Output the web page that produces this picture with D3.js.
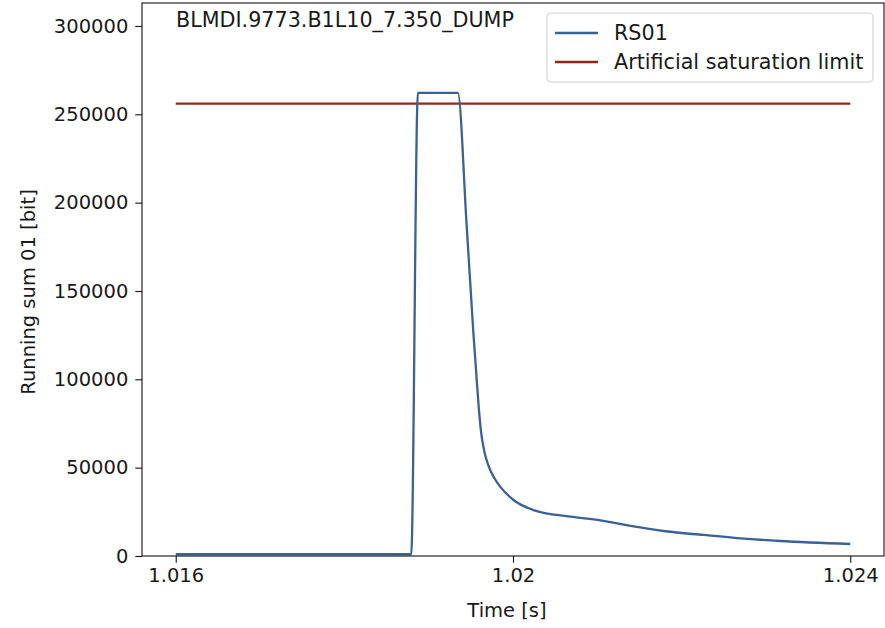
<!DOCTYPE html>
<html>
<head>
<meta charset="utf-8">
<script src="https://cdn.jsdelivr.net/npm/d3@7"></script>
<style>
  body { margin: 0; background: #fff; }
  text { font-family: "DejaVu Sans", sans-serif; fill: #1a1a1a; }
</style>
</head>
<body>
<svg id="chart"></svg>
<script>
const title = 'BLMDI.9773.B1L10_7.350_DUMP';
const seriesNames = ['RS01', 'Artificial saturation limit'];

// RS01 running sum
const times = [1.016, 1.018793, 1.018872, 1.019346, 1.019449, 1.019528, 1.019570,
  1.019594, 1.019622, 1.019661, 1.019710, 1.019780, 1.019852, 1.020006, 1.020243,
  1.020681, 1.021037, 1.021393, 1.021807, 1.022258, 1.022696, 1.023170, 1.024];
const rs01 = [1000, 1000, 262143, 262143, 188300, 127800, 99500,
  84000, 70000, 59000, 51000, 44000, 39000, 31700, 26000,
  22300, 20200, 17000, 14000, 11900, 10000, 8500, 6800];

const limitTimes = [1.016, 1.024];
const limitValues = [256000, 256000];

const xTicks = [1.016, 1.02, 1.024];
const xTickLabels = ['1.016', '1.02', '1.024'];
const yTicks = [0, 50000, 100000, 150000, 200000, 250000, 300000];

const W = 885, H = 628;
const margin = {top: 3, right: 1, bottom: 72, left: 142};
const width = W - margin.left - margin.right;
const height = H - margin.top - margin.bottom;

const blue = '#3a6294';
const red = '#8c2a17';

const xScale = d3.scaleLinear()
    .domain([1.0156, 1.0244])
    .range([0, width]);

const yScale = d3.scaleLinear()
    .domain([0, 313000])
    .range([height, 0]);

const svg = d3.select('#chart')
    .attr('width', W)
    .attr('height', H);

const g = svg.append('g')
    .attr('transform', `translate(${margin.left}, ${margin.top})`);

const line = d3.line()
    .x(d => xScale(d[0]))
    .y(d => yScale(d[1]))
    .curve(d3.curveMonotoneX);

g.append('path')
    .datum(limitTimes.map((t, i) => [t, limitValues[i]]))
    .attr('fill', 'none')
    .attr('stroke', red)
    .attr('stroke-width', 2.3)
    .attr('d', line);

g.append('path')
    .datum(times.map((t, i) => [t, rs01[i]]))
    .attr('fill', 'none')
    .attr('stroke', blue)
    .attr('stroke-width', 2.3)
    .attr('stroke-linejoin', 'round')
    .attr('d', line);

// axes
const xAxis = d3.axisBottom(xScale)
    .tickValues(xTicks)
    .tickFormat((d, i) => xTickLabels[i])
    .tickSize(6.7)
    .tickPadding(5);

const yAxis = d3.axisLeft(yScale)
    .tickValues(yTicks)
    .tickFormat(d3.format('d'))
    .tickSize(6.7)
    .tickPadding(7);

const gx = g.append('g')
    .attr('transform', `translate(0, ${height})`)
    .call(xAxis);

const gy = g.append('g')
    .call(yAxis);

[gx, gy].forEach(a => {
  a.select('.domain').remove();
  a.selectAll('line').attr('stroke', '#111').attr('stroke-width', 1.1);
  a.selectAll('text')
      .attr('font-size', 19.5)
      .attr('fill', '#1a1a1a')
      .style('font-family', '"DejaVu Sans", sans-serif');
});

// frame
g.append('rect')
    .attr('width', width)
    .attr('height', height)
    .attr('fill', 'none')
    .attr('stroke', '#111')
    .attr('stroke-width', 1.1);

// title inside plot
g.append('text')
    .attr('x', 176 - margin.left)
    .attr('y', 27 - margin.top)
    .attr('font-size', 20.7)
    .text(title);

// axis labels
svg.append('text')
    .attr('x', margin.left + width / 2 - 6)
    .attr('y', 617)
    .attr('text-anchor', 'middle')
    .attr('font-size', 19.5)
    .text('Time [s]');

svg.append('text')
    .attr('transform', 'translate(35, 292) rotate(-90)')
    .attr('text-anchor', 'middle')
    .attr('font-size', 19.5)
    .text('Running sum 01 [bit]');

// legend
const legend = svg.append('g')
    .attr('transform', 'translate(547, 13)');

legend.append('rect')
    .attr('width', 326)
    .attr('height', 69)
    .attr('rx', 4)
    .attr('fill', 'white')
    .attr('fill-opacity', 0.8)
    .attr('stroke', '#d0d0d0')
    .attr('stroke-width', 1.1);

const items = legend.selectAll('.item')
    .data(seriesNames)
    .join('g')
    .attr('class', 'item')
    .attr('transform', (d, i) => `translate(0, ${20 + i * 29})`);

items.append('line')
    .attr('x1', 8)
    .attr('x2', 51)
    .attr('stroke', (d, i) => i === 0 ? blue : red)
    .attr('stroke-width', 2.3);

items.append('text')
    .attr('x', 67)
    .attr('y', 7)
    .attr('font-size', 20.7)
    .text(d => d);
</script>
</body>
</html>
